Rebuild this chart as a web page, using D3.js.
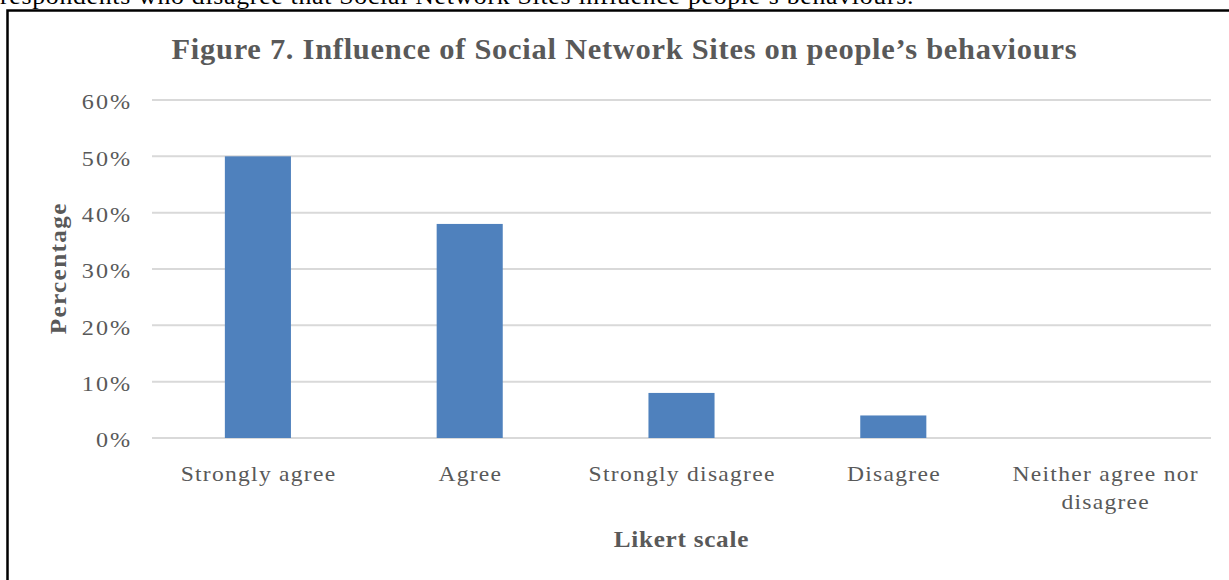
<!DOCTYPE html>
<html>
<head>
<meta charset="utf-8">
<script src="https://cdn.jsdelivr.net/npm/d3@7"></script>
<style>
  html, body { margin: 0; padding: 0; background: #fff; overflow: hidden; }
  svg { display: block; }
</style>
</head>
<body>
<svg id="chart" width="1229" height="580"></svg>
<script>
// Survey responses on the Likert scale
const categories = ["Strongly agree", "Agree", "Strongly disagree", "Disagree", "Neither agree nor disagree"];
const percentages = [0.50, 0.38, 0.08, 0.04, 0.00];
const yTicks = [0, 0.1, 0.2, 0.3, 0.4, 0.5, 0.6];

const svg = d3.select("#chart");
const W = 1229, H = 580;
const serif = "'Liberation Serif', 'Times New Roman', serif";
const textGray = "#595959";

// Text set in a slightly wide Times face: glyphs are stretched horizontally
// around the anchor point, with a little extra tracking.
function wideText(parent, px, py, sx, opts) {
  const g = parent.append("g")
    .attr("transform", `translate(${px},${py}) scale(${sx},1)`);
  const sp = opts.spacing || 0;
  const anchor = opts.anchor || "start";
  const shift = anchor === "middle" ? sp / 2 : anchor === "end" ? sp : 0;
  const t = g.append("text")
    .attr("x", shift).attr("y", 0)
    .attr("text-anchor", anchor)
    .attr("font-family", serif)
    .attr("font-size", opts.size)
    .attr("font-weight", opts.weight || "normal")
    .attr("letter-spacing", sp)
    .attr("fill", opts.fill || textGray);
  const lines = Array.isArray(opts.text) ? opts.text : [opts.text];
  lines.forEach((ln, i) => {
    t.append("tspan")
      .attr("x", shift)
      .attr("dy", i === 0 ? (opts.dy || 0) : opts.lineHeight)
      .text(ln);
  });
  return g;
}

// Running text from the document above the figure
wideText(svg, 0, 3.5, 1.12, {
  text: "respondents who disagree that Social Network Sites influence people\u2019s behaviours.",
  size: 23, spacing: 0.65, fill: "#000"
});

// Figure frame
svg.append("rect")
  .attr("x", 7.5).attr("y", 10.5)
  .attr("width", W + 20).attr("height", H)
  .attr("fill", "none").attr("stroke", "#000").attr("stroke-width", 2.5);

const plot = { left: 152, right: 1211, top: 100, bottom: 438 };

const x = d3.scaleBand()
  .domain(categories)
  .range([plot.left, plot.right])
  .paddingInner(0.688).paddingOuter(0.344);

const y = d3.scaleLinear()
  .domain([0, 0.6])
  .range([plot.bottom, plot.top]);

// Horizontal gridlines
svg.append("g")
  .selectAll("line")
  .data(yTicks)
  .join("line")
  .attr("x1", plot.left).attr("x2", plot.right)
  .attr("y1", d => y(d)).attr("y2", d => y(d))
  .attr("stroke", "#d9d9d9").attr("stroke-width", 2);

// Y axis labels
const yFmt = d3.format(".0%");
const yLabels = svg.append("g");
yTicks.forEach(v => {
  wideText(yLabels, plot.left - 22, y(v), 1.15, {
    text: yFmt(v), size: 21, spacing: 1.7, anchor: "end", dy: "0.45em"
  });
});

// Bars
svg.append("g")
  .selectAll("rect")
  .data(categories.map((c, i) => ({ c, v: percentages[i] })))
  .join("rect")
  .attr("x", d => x(d.c))
  .attr("y", d => y(d.v))
  .attr("width", x.bandwidth())
  .attr("height", d => y(0) - y(d.v))
  .attr("fill", "#4f81bd");

// Category labels, wrapped to two lines where needed
const wrapped = {
  "Neither agree nor disagree": ["Neither agree nor", "disagree"]
};
const xLabels = svg.append("g");
categories.forEach(c => {
  wideText(xLabels, x(c) + x.bandwidth() / 2, 481, 1.15, {
    text: wrapped[c] || c, size: 20.5, spacing: 1.1,
    anchor: "middle", lineHeight: 28
  });
});

// Chart title
wideText(svg, 624, 59, 1.05, {
  text: "Figure 7. Influence of Social Network Sites on people\u2019s behaviours",
  size: 29, weight: "bold", spacing: 0.7, anchor: "middle"
});

// Axis titles
wideText(svg, 681, 547, 1.05, {
  text: "Likert scale", size: 24, weight: "bold", spacing: 0.7, anchor: "middle"
});

const yTitle = svg.append("g").attr("transform", "translate(66,269) rotate(-90)");
wideText(yTitle, 0, 0, 1.05, {
  text: "Percentage", size: 24, weight: "bold", spacing: 1.3, anchor: "middle"
});
</script>
</body>
</html>
